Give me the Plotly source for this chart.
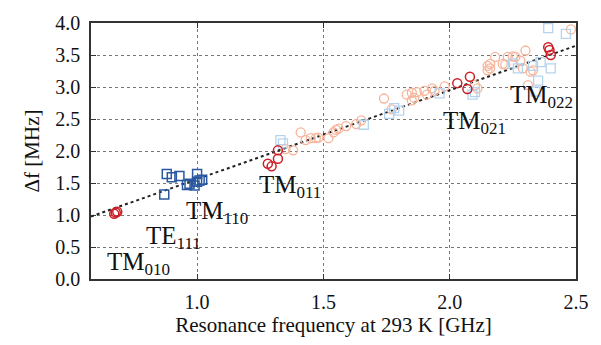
import plotly.graph_objects as go

# dark blue squares (TM110 group)
blue_dark_x = [0.87, 0.88, 0.90, 0.93, 0.96, 0.97, 0.99, 1.00, 1.00, 1.01, 1.02]
blue_dark_y = [1.32, 1.64, 1.59, 1.61, 1.47, 1.49, 1.46, 1.52, 1.64, 1.54, 1.55]

# red circles
red_x = [0.672, 0.678, 0.684, 1.28, 1.295, 1.32, 1.32, 2.03, 2.07, 2.08, 2.39, 2.395, 2.40]
red_y = [1.02, 1.04, 1.05, 1.80, 1.76, 1.88, 2.01, 3.06, 2.97, 3.16, 3.62, 3.58, 3.50]

# light orange circles
orange_x = [1.35, 1.38, 1.41, 1.43, 1.45, 1.47, 1.48, 1.52, 1.54, 1.55, 1.56, 1.59,
            1.63, 1.65, 1.74, 1.77, 1.83, 1.85, 1.85, 1.86, 1.87, 1.90, 1.91, 1.93,
            1.94, 1.98, 2.10, 2.11, 2.15, 2.15, 2.16, 2.16, 2.18, 2.21, 2.22, 2.23,
            2.25, 2.26, 2.28, 2.29, 2.30, 2.31, 2.32, 2.33, 2.48]
orange_y = [2.03, 2.01, 2.29, 2.17, 2.20, 2.20, 2.21, 2.20, 2.29, 2.33, 2.35, 2.39,
            2.42, 2.48, 2.82, 2.65, 2.88, 2.91, 2.79, 2.83, 2.92, 2.94, 2.88, 2.98,
            2.94, 3.01, 3.03, 2.98, 3.26, 3.33, 3.29, 3.36, 3.47, 3.36, 3.35, 3.47,
            3.48, 3.47, 3.41, 3.29, 3.57, 3.03, 3.24, 3.26, 3.90]

# light blue squares
lblue_x = [1.33, 1.34, 1.66, 1.76, 1.78, 1.80, 1.96, 2.09, 2.10, 2.25, 2.27, 2.33,
           2.34, 2.35, 2.36, 2.40, 2.39, 2.46]
lblue_y = [2.17, 2.12, 2.41, 2.58, 2.67, 2.63, 2.90, 2.88, 2.92, 3.37, 3.29, 3.33,
           2.93, 3.10, 3.39, 3.29, 3.92, 3.83]

# linear fit
fit_slope = 1.39
fit_intercept = 0.17
fit_x = [0.58, 2.5]
fit_y = [fit_slope * v + fit_intercept for v in fit_x]

# mode labels
label_main = ["TM", "TE", "TM", "TM", "TM", "TM"]
label_sub = ["010", "111", "110", "011", "021", "022"]
label_x = [0.634, 0.791, 0.949, 1.238, 1.966, 2.230]
label_y = [0.25, 0.655, 1.045, 1.44, 2.44, 2.85]

FONT = "Liberation Serif"
INK = "#111111"

fig = go.Figure()
fig.add_trace(go.Scatter(x=fit_x, y=fit_y, mode="lines",
                         line=dict(color="#222222", width=2, dash="dot"),
                         showlegend=False))
fig.add_trace(go.Scatter(x=orange_x, y=orange_y, mode="markers",
                         marker=dict(symbol="circle-open", size=9, color="#f6b49a",
                                     line=dict(width=1.3)),
                         showlegend=False))
fig.add_trace(go.Scatter(x=lblue_x, y=lblue_y, mode="markers",
                         marker=dict(symbol="square-open", size=9, color="#b6d3ee",
                                     line=dict(width=1.3)),
                         showlegend=False))
fig.add_trace(go.Scatter(x=blue_dark_x, y=blue_dark_y, mode="markers",
                         marker=dict(symbol="square-open", size=9, color="#2a58a0",
                                     line=dict(width=1.5)),
                         showlegend=False))
fig.add_trace(go.Scatter(x=red_x, y=red_y, mode="markers",
                         marker=dict(symbol="circle-open", size=9, color="#cc1f26",
                                     line=dict(width=1.5)),
                         showlegend=False))

for m, s, x, y in zip(label_main, label_sub, label_x, label_y):
    txt = m + "<sub><span style='font-size:17px'>" + s + "</span></sub>"
    fig.add_annotation(x=x, y=y, text=txt, showarrow=False, xanchor="left",
                       yanchor="middle", font=dict(family=FONT, size=25, color=INK))

axis_common = dict(showline=True, linecolor="#333333", linewidth=1.5, mirror="ticks",
                   ticks="inside", ticklen=5, tickcolor="#333333", tickwidth=1,
                   showgrid=True, gridcolor="#777777", griddash="dot", gridwidth=1,
                   zeroline=False, tickfont=dict(family=FONT, size=20, color=INK))

fig.update_xaxes(range=[0.58, 2.5], tickvals=[1.0, 1.5, 2.0, 2.5],
                 ticktext=["1.0", "1.5", "2.0", "2.5"], ticklabelstandoff=4,
                 title=dict(text="Resonance frequency at 293 K [GHz]",
                            font=dict(family=FONT, size=21, color=INK), standoff=6),
                 **axis_common)
fig.update_yaxes(range=[0, 4.0], tickvals=[0, 0.5, 1.0, 1.5, 2.0, 2.5, 3.0, 3.5, 4.0],
                 ticktext=["0.0", "0.5", "1.0", "1.5", "2.0", "2.5", "3.0", "3.5", "4.0"],
                 ticklabelstandoff=5,
                 title=dict(text="Δf [MHz]", font=dict(family=FONT, size=21, color=INK),
                            standoff=10),
                 **axis_common)

fig.update_layout(width=601, height=345, margin=dict(l=91, r=24, t=18, b=63),
                  plot_bgcolor="white", paper_bgcolor="white")
fig.write_html("out.html")
